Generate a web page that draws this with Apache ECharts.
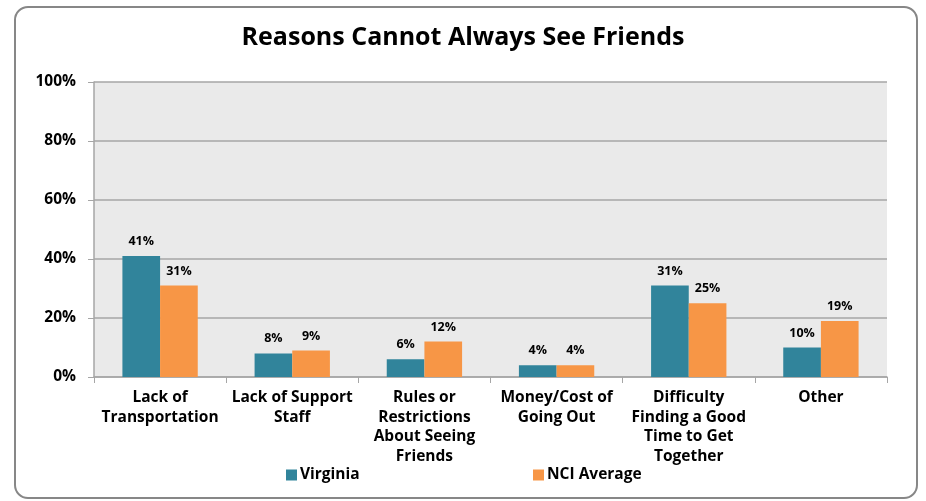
<!DOCTYPE html>
<html>
<head>
<meta charset="utf-8">
<script src="https://cdn.jsdelivr.net/npm/echarts@6/dist/echarts.min.js"></script>
<style>html,body{margin:0;padding:0;background:#fff;}#c{width:926px;height:501px;}</style>
</head>
<body>
<div id="c"></div>
<script>
var categories = ["Lack of\nTransportation", "Lack of Support\nStaff", "Rules or\nRestrictions\nAbout Seeing\nFriends", "Money/Cost of\nGoing Out", "Difficulty\nFinding a Good\nTime to Get\nTogether", "Other"];
var virginia = [41, 8, 6, 4, 31, 10];
var nciAverage = [31, 9, 12, 4, 25, 19];
var yTicks = [0, 20, 40, 60, 80, 100];

var font = "'Open Sans', 'DejaVu Sans', sans-serif";
var chart = echarts.init(document.getElementById('c'), null, {renderer: 'canvas'});
chart.setOption({
  animation: false,
  backgroundColor: '#ffffff',
  graphic: [{
    type: 'rect', z: -10, silent: true,
    shape: {x: 15, y: 7, width: 902, height: 491, r: 13},
    style: {fill: 'none', stroke: '#878787', lineWidth: 2}
  }],
  title: {
    text: 'Reasons Cannot Always See Friends',
    left: 'center', top: 20,
    textStyle: {fontFamily: font, fontWeight: 'bold', fontSize: 25, color: '#000'}
  },
  legend: [{
    data: ['Virginia'], left: 281, top: 462, itemWidth: 11, itemHeight: 11, icon: 'rect', itemGap: 4,
    textStyle: {fontFamily: font, fontWeight: 'bold', fontSize: 15.5, color: '#000', padding: [0,0,0,-2]}
  }, {
    data: ['NCI Average'], left: 528, top: 462, itemWidth: 11, itemHeight: 11, icon: 'rect',
    textStyle: {fontFamily: font, fontWeight: 'bold', fontSize: 15.5, color: '#000', padding: [0,0,0,-2]}
  }],
  grid: {left: 94, right: 39, top: 82, bottom: 124, show: true, backgroundColor: '#EAEAEA', borderWidth: 0},
  xAxis: {
    type: 'category', data: categories,
    axisLine: {lineStyle: {color: '#A6A6A6', width: 1.5}},
    axisTick: {show: true, length: 6, lineStyle: {color: '#A6A6A6'}},
    axisLabel: {interval: 0, margin: 11, fontFamily: font, fontWeight: 'bold', fontSize: 15.5, lineHeight: 19.5, color: '#000'}
  },
  yAxis: {
    type: 'value', min: 0, max: 100, interval: 20,
    axisLine: {show: true, lineStyle: {color: '#A6A6A6', width: 1.5}},
    axisTick: {show: true, length: 6, lineStyle: {color: '#A6A6A6'}},
    splitLine: {lineStyle: {color: '#A6A6A6', width: 1.5}},
    axisLabel: {margin: 18, fontFamily: font, fontWeight: 'bold', fontSize: 15.5, color: '#000',
      formatter: function (v) { return yTicks.indexOf(v) >= 0 ? v + '%' : ''; }}
  },
  series: [{
    name: 'Virginia', type: 'bar', data: virginia, barGap: '0%', barCategoryGap: '43%',
    itemStyle: {color: '#31849B'},
    label: {show: true, position: 'top', distance: 8, formatter: '{c}%', fontFamily: font, fontWeight: 'bold', fontSize: 12.5, color: '#000'}
  }, {
    name: 'NCI Average', type: 'bar', data: nciAverage,
    itemStyle: {color: '#F79646'},
    label: {show: true, position: 'top', distance: 8, formatter: '{c}%', fontFamily: font, fontWeight: 'bold', fontSize: 12.5, color: '#000'}
  }]
});
</script>
</body>
</html>
